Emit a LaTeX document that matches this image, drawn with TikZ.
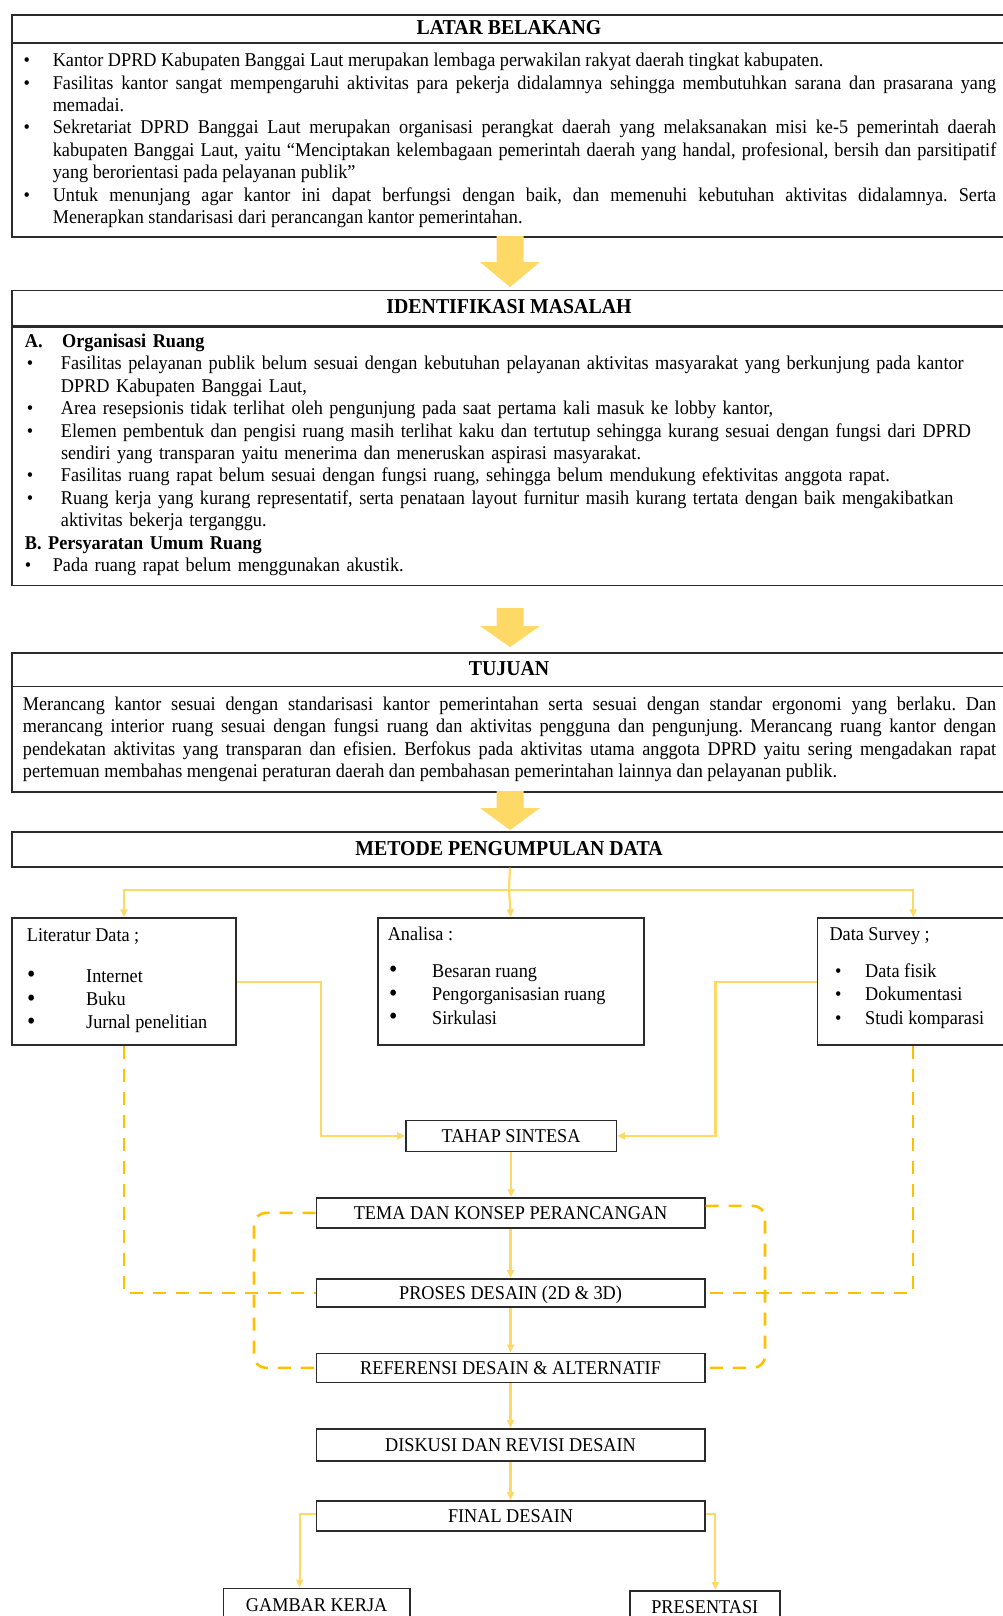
\documentclass[tikz,border=0pt]{standalone}
\usepackage{fontspec}
\usepackage{graphicx}
\setmainfont{Liberation Serif}[FakeStretch=0.935]
\usetikzlibrary{arrows.meta,calc}
\definecolor{arrowfill}{HTML}{FFD966}
\definecolor{linky}{HTML}{FFD966}
\definecolor{dashy}{HTML}{FFC000}
\definecolor{frame}{HTML}{2B2B2B}
\frenchspacing
\newcommand{\bodyfont}{\fontsize{19.5pt}{22.4pt}\selectfont\frenchspacing}
\newcommand{\titlefont}{\fontsize{21.2pt}{24pt}\selectfont\bfseries}
\newcommand{\bitem}[3]{\hangindent=#1\hangafter=1\noindent\makebox[#1][l]{\hspace{#2}•}#3\par}
\newcommand{\bigbul}{\raisebox{-0.5pt}{\scalebox{1.3}{•}}}
\newcommand{\blockarrow}[3]{\fill[arrowfill] (496.5,#1) -- (523.5,#1) -- (523.5,#2) -- (540,#2) -- (510,#3) -- (480,#2) -- (496.5,#2) -- cycle;}
\begin{document}
\begin{tikzpicture}[x=1pt,y=-1pt,
  bx/.style={draw=frame,line width=1.6pt,rectangle,inner sep=0pt,anchor=north west},
  fl/.style={bx,font=\bodyfont,text height=12.9pt,text depth=0pt},
  sepline/.style={draw=frame,line width=1.6pt},
  txt/.style={inner sep=0pt,font=\bodyfont},
  ttl/.style={inner sep=0pt,font=\titlefont,anchor=base},
  yl/.style={draw=linky,line width=2.2pt},
  ya/.style={yl,-{Triangle[length=8pt,width=7pt]}},
  dy/.style={draw=dashy,line width=2.6pt,dash pattern=on 13pt off 10pt},
]
\useasboundingbox (0,0) rectangle (1002,1616);
\fill[white] (0,0) rectangle (1002,1616);

% ---------- LATAR BELAKANG ----------
\node[bx,minimum width=995.7pt,minimum height=221.6pt] (latar) at (11.3,14.4) {};
\draw[sepline] (latar.west |- 0,43.3) -- (latar.east |- 0,43.3);
\node[ttl] (latarT) at (509,34.4) {LATAR BELAKANG};
\node[txt,text width=972.5pt,align=justify,anchor=base west] (latarX) at (23.5,66.7) {%
\tolerance=9999\hyphenpenalty=10000\exhyphenpenalty=10000
\bitem{29.1pt}{0pt}{Kantor DPRD Kabupaten Banggai Laut merupakan lembaga perwakilan rakyat daerah tingkat kabupaten.}
\bitem{29.1pt}{0pt}{Fasilitas kantor sangat mempengaruhi aktivitas para pekerja didalamnya sehingga membutuhkan sarana dan prasarana yang\linebreak memadai.}
\bitem{29.1pt}{0pt}{Sekretariat DPRD Banggai Laut merupakan organisasi perangkat daerah yang melaksanakan misi ke-5 pemerintah daerah\linebreak kabupaten Banggai Laut, yaitu “Menciptakan kelembagaan pemerintah daerah yang handal, profesional, bersih dan parsitipatif\linebreak yang berorientasi pada pelayanan publik”}
\bitem{29.1pt}{0pt}{Untuk menunjang agar kantor ini dapat berfungsi dengan baik, dan memenuhi kebutuhan aktivitas didalamnya. Serta\linebreak Menerapkan standarisasi dari perancangan kantor pemerintahan.}}; 

% ---------- IDENTIFIKASI MASALAH ----------
\node[bx,minimum width=995.7pt,minimum height=294.8pt] (ident) at (11.3,289.7) {};
\draw[draw=frame,line width=3pt] (ident.west |- 0,326.8) -- (ident.east |- 0,326.8);
\node[ttl] (identT) at (509,313.7) {IDENTIFIKASI MASALAH};
\node[txt,text width=965pt,align=left,anchor=base west] (identX) at (24.7,347.5) {%
\hyphenpenalty=10000
\noindent\makebox[37.3pt][l]{\textbf{A.}}\textbf{Organisasi Ruang}\par
\bitem{36.1pt}{2pt}{Fasilitas pelayanan publik belum sesuai dengan kebutuhan pelayanan aktivitas masyarakat yang berkunjung pada kantor\newline DPRD Kabupaten Banggai Laut,}
\bitem{36.1pt}{2pt}{Area resepsionis tidak terlihat oleh pengunjung pada saat pertama kali masuk ke lobby kantor,}
\bitem{36.1pt}{2pt}{Elemen pembentuk dan pengisi ruang masih terlihat kaku dan tertutup sehingga kurang sesuai dengan fungsi dari DPRD\newline sendiri yang transparan yaitu menerima dan meneruskan aspirasi masyarakat.}
\bitem{36.1pt}{2pt}{Fasilitas ruang rapat belum sesuai dengan fungsi ruang, sehingga belum mendukung efektivitas anggota rapat.}
\bitem{36.1pt}{2pt}{Ruang kerja yang kurang representatif, serta penataan layout furnitur masih kurang tertata dengan baik mengakibatkan\newline aktivitas bekerja terganggu.}
\noindent\textbf{B. Persyaratan Umum Ruang}\par
\bitem{27.9pt}{0pt}{Pada ruang rapat belum menggunakan akustik.}};

% ---------- TUJUAN ----------
\node[bx,minimum width=995.7pt,minimum height=139pt] (tujuan) at (11.3,652) {};
\draw[sepline] (tujuan.west |- 0,686.6) -- (tujuan.east |- 0,686.6);
\node[ttl] (tujuanT) at (509,675.7) {TUJUAN};
\node[txt,text width=973.3pt,align=justify,anchor=base west] (tujuanX) at (22.7,710.5) {%
\tolerance=9999\hyphenpenalty=10000\exhyphenpenalty=10000
Merancang kantor sesuai dengan standarisasi kantor pemerintahan serta sesuai dengan standar ergonomi yang berlaku. Dan\linebreak
merancang interior ruang sesuai dengan fungsi ruang dan aktivitas pengguna dan pengunjung. Merancang ruang kantor dengan\linebreak
pendekatan aktivitas yang transparan dan efisien. Berfokus pada aktivitas utama anggota DPRD yaitu sering mengadakan rapat\linebreak
pertemuan membahas mengenai peraturan daerah dan pembahasan pemerintahan lainnya dan pelayanan publik.};

% ---------- METODE ----------
\node[bx,minimum width=995.7pt,minimum height=35pt] (metode) at (11.3,831) {};
\node[ttl] (metodeT) at (509,855) {METODE PENGUMPULAN DATA};

\node[bx,minimum width=223.7pt,minimum height=127pt] (lit) at (11.3,917.3) {};
\node[bx,minimum width=266pt,minimum height=127pt] (ana) at (377,917.3) {};
\node[bx,minimum width=191.3pt,minimum height=127pt] (sur) at (816.7,917.3) {};

\node[txt,anchor=base west] (litT) at (26.7,941.7) {Literatur Data ;};
\node[txt,anchor=base west] (lit1) at (27,982.3) {\makebox[59pt][l]{\bigbul}Internet};
\node[txt,anchor=base west] (lit2) at (27,1005.5) {\makebox[59pt][l]{\bigbul}Buku};
\node[txt,anchor=base west] (lit3) at (27,1028.7) {\makebox[59pt][l]{\bigbul}Jurnal penelitian};

\node[txt,anchor=base west] (anaT) at (387.6,940) {Analisa :};
\node[txt,anchor=base west] (ana1) at (389,977.3) {\makebox[43pt][l]{\bigbul}Besaran ruang};
\node[txt,anchor=base west] (ana2) at (389,1000.5) {\makebox[43pt][l]{\bigbul}Pengorganisasian ruang};
\node[txt,anchor=base west] (ana3) at (389,1024) {\makebox[43pt][l]{\bigbul}Sirkulasi};

\node[txt,anchor=base west] (surT) at (829.3,940) {Data Survey ;};
\node[txt,anchor=base west] (sur1) at (835,977.3) {\makebox[30pt][l]{•}Data fisik};
\node[txt,anchor=base west] (sur2) at (835,1000.5) {\makebox[30pt][l]{•}Dokumentasi};
\node[txt,anchor=base west] (sur3) at (835,1024) {\makebox[30pt][l]{•}Studi komparasi};

% ---------- FLOW ----------
\node[fl,minimum width=210.5pt,minimum height=31pt] (tahap) at (405,1119.6) {TAHAP SINTESA};
\node[fl,minimum width=388.5pt,minimum height=30pt] (tema) at (315.5,1197) {TEMA DAN KONSEP PERANCANGAN};
\node[fl,minimum width=388.5pt,minimum height=28pt] (proses) at (315.5,1278) {PROSES DESAIN (2D \& 3D)};
\node[fl,minimum width=388.5pt,minimum height=29pt] (ref) at (315.5,1352.6) {REFERENSI DESAIN \& ALTERNATIF};
\node[fl,minimum width=388.5pt,minimum height=32pt] (disk) at (315.5,1428) {DISKUSI DAN REVISI DESAIN};
\node[fl,minimum width=388.5pt,minimum height=30pt] (final) at (315.5,1500) {FINAL DESAIN};
\node[fl,minimum width=186.3pt,minimum height=34pt] (gambar) at (222.7,1587.6) {GAMBAR KERJA};
\node[fl,minimum width=150pt,minimum height=32pt] (pres) at (629,1590) {PRESENTASI};

% ---------- block arrows ----------
\blockarrow{236}{262}{287}
\blockarrow{608}{626}{647}
\blockarrow{791}{808}{830}

% ---------- connectors ----------
\coordinate (split) at (509,889.7);
\draw[yl] (metode.south) -- (split);
\draw[ya] (split) -| (lit.north);
\draw[ya] (split) -| (sur.north);
\draw[ya] (split) -- (ana.north);

\draw[ya] (lit.east) -- ++(84.6,0) |- (tahap.west);
\draw[ya] (sur.west) -- ++(-101.2,0) |- (tahap.east);

\draw[ya] (tahap.south) -- (tahap.south |- tema.north);
\draw[ya] (tema.south) -- (proses.north);
\draw[ya] (proses.south) -- (ref.north);
\draw[ya] (ref.south) -- (disk.north);
\draw[ya] (disk.south) -- (final.north);

\draw[ya] ([yshift=2pt]final.west) -| ([xshift=-17pt]gambar.north);
\draw[ya] ([yshift=2pt]final.east) -| ([xshift=10.5pt]pres.north);

% dashed
\draw[dy] (lit.south) |- (proses.west);
\draw[dy] (sur.south) |- (proses.east);
\draw[dy,rounded corners=12pt] (tema.west) -| (254,1290) |- (ref.west);
\draw[dy,rounded corners=12pt] ([yshift=7pt]tema.east) -| (765,1290) |- (ref.east);
\end{tikzpicture}
\end{document}
